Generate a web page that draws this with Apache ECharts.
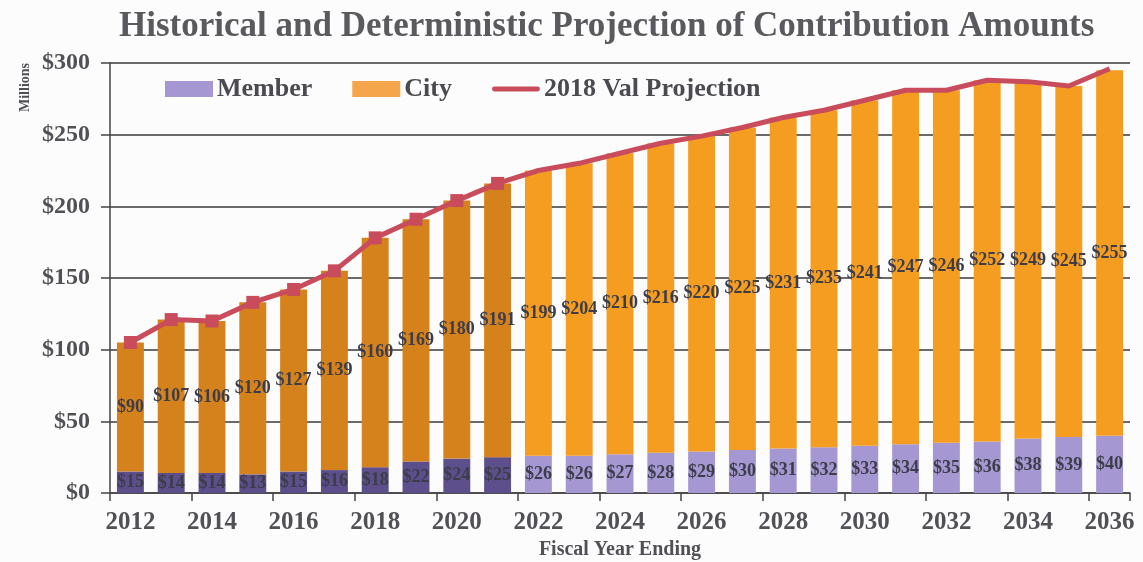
<!DOCTYPE html>
<html>
<head>
<meta charset="utf-8">
<script src="https://cdn.jsdelivr.net/npm/echarts@6/dist/echarts.min.js"></script>
<style>
  html, body { margin: 0; padding: 0; background: #fdfcfc; }
  #chart { width: 1143px; height: 562px; }
</style>
</head>
<body>
<div id="chart"></div>
<script>
// Fiscal years (bars), contribution amounts in $ millions
const years = ['2012','2013','2014','2015','2016','2017','2018','2019','2020','2021',
               '2022','2023','2024','2025','2026','2027','2028','2029','2030','2031',
               '2032','2033','2034','2035','2036'];
const memberValues = [15, 14, 14, 13, 15, 16, 18, 22, 24, 25,
                      26, 26, 27, 28, 29, 30, 31, 32, 33, 34, 35, 36, 38, 39, 40];
const cityValues = [90, 107, 106, 120, 127, 139, 160, 169, 180, 191,
                    199, 204, 210, 216, 220, 225, 231, 235, 241, 247, 246, 252, 249, 245, 255];
const projectionValues = [105, 121, 120, 133, 142, 155, 178, 191, 204, 216,
                          225, 230, 237, 244, 249, 255, 262, 267, 274, 281, 281, 288, 287, 284, 296];
const yTicks = [0, 50, 100, 150, 200, 250, 300];
const lastActualYear = 2021;

const SERIF = '"Liberation Serif", "DejaVu Serif", serif';
const colors = {
  memberActual: '#5d4f8b',
  memberProj: '#a598d2',
  cityActual: '#d5821c',
  cityProj: '#f49d20',
  line: '#c94c5c',
  text: '#3d3d4a',
  axisText: '#505056'
};

const isActual = i => Number(years[i]) <= lastActualYear;

const barLabel = {
  show: true,
  position: 'inside',
  formatter: p => '$' + p.value,
  fontFamily: SERIF,
  fontWeight: 'bold',
  fontSize: 18,
  color: colors.text
};

const chart = echarts.init(document.getElementById('chart'), null, { renderer: 'canvas' });
chart.setOption({
  backgroundColor: '#fdfcfc',
  animation: false,
  title: {
    text: 'Historical and Deterministic Projection of Contribution Amounts',
    left: 114,
    top: 4,
    textStyle: { fontFamily: SERIF, fontWeight: 'bold', fontSize: 35, color: '#5a5a5e' }
  },
  legend: {
    left: 160,
    top: 71,
    itemGap: 40,
    itemWidth: 48,
    itemHeight: 16,
    textStyle: { fontFamily: SERIF, fontWeight: 'bold', fontSize: 26, color: '#4a4a50', padding: [0, 0, 0, -1] },
    data: [
      { name: 'Member', icon: 'rect', itemStyle: { color: colors.memberProj } },
      { name: 'City', icon: 'rect', itemStyle: { color: '#f5a64c' } },
      { name: '2018 Val Projection', icon: 'path://M2,0 L46,0 A2,2 0 0 1 46,5 L2,5 A2,2 0 0 1 2,0 Z',
        itemStyle: { color: colors.line } }
    ]
  },
  grid: { left: 110, right: 13, top: 63, bottom: 69, containLabel: false, outerBoundsMode: 'none' },
  xAxis: {
    type: 'category',
    data: years,
    name: 'Fiscal Year Ending',
    nameLocation: 'middle',
    nameGap: 47,
    nameTextStyle: { fontFamily: SERIF, fontWeight: 'bold', fontSize: 20, color: colors.axisText },
    axisLine: { lineStyle: { color: '#444', width: 1.5 } },
    axisTick: { show: true, length: 8, lineStyle: { color: '#444', width: 1.5 } },
    axisLabel: {
      interval: 1,
      margin: 17,
      fontFamily: SERIF, fontWeight: 'bold', fontSize: 25, color: colors.axisText
    }
  },
  yAxis: {
    type: 'value',
    min: 0,
    max: 300,
    interval: 50,
    name: 'Millions',
    nameLocation: 'end',
    nameRotate: 90,
    nameGap: 0,
    nameTextStyle: {
      fontFamily: SERIF, fontWeight: 'bold', fontSize: 14, color: colors.axisText,
      align: 'right', verticalAlign: 'bottom', padding: [0, 0, 78, 0]
    },
    axisLine: { show: true, lineStyle: { color: '#444', width: 1.5 } },
    axisTick: { show: true, length: 9, lineStyle: { color: '#444', width: 1.5 } },
    axisLabel: {
      margin: 20,
      formatter: v => yTicks.includes(v) ? '$' + v : '',
      fontFamily: SERIF, fontWeight: 'bold', fontSize: 24, color: colors.axisText
    },
    splitLine: { show: true, lineStyle: { color: '#3a3a3a', width: 1.5 } }
  },
  series: [
    {
      name: 'Member',
      type: 'bar',
      stack: 'total',
      barCategoryGap: '34%',
      itemStyle: { color: colors.memberProj },
      label: barLabel,
      data: memberValues.map((v, i) => ({
        value: v,
        itemStyle: { color: isActual(i) ? colors.memberActual : colors.memberProj }
      }))
    },
    {
      name: 'City',
      type: 'bar',
      stack: 'total',
      itemStyle: { color: colors.cityProj },
      label: barLabel,
      data: cityValues.map((v, i) => ({
        value: v,
        itemStyle: { color: isActual(i) ? colors.cityActual : colors.cityProj }
      }))
    },
    {
      name: '2018 Val Projection',
      type: 'line',
      z: 5,
      symbol: 'rect',
      lineStyle: { color: colors.line, width: 5 },
      itemStyle: { color: colors.line },
      data: projectionValues.map((v, i) => ({
        value: v,
        symbolSize: isActual(i) ? 13 : 0
      }))
    }
  ]
});
</script>
</body>
</html>
